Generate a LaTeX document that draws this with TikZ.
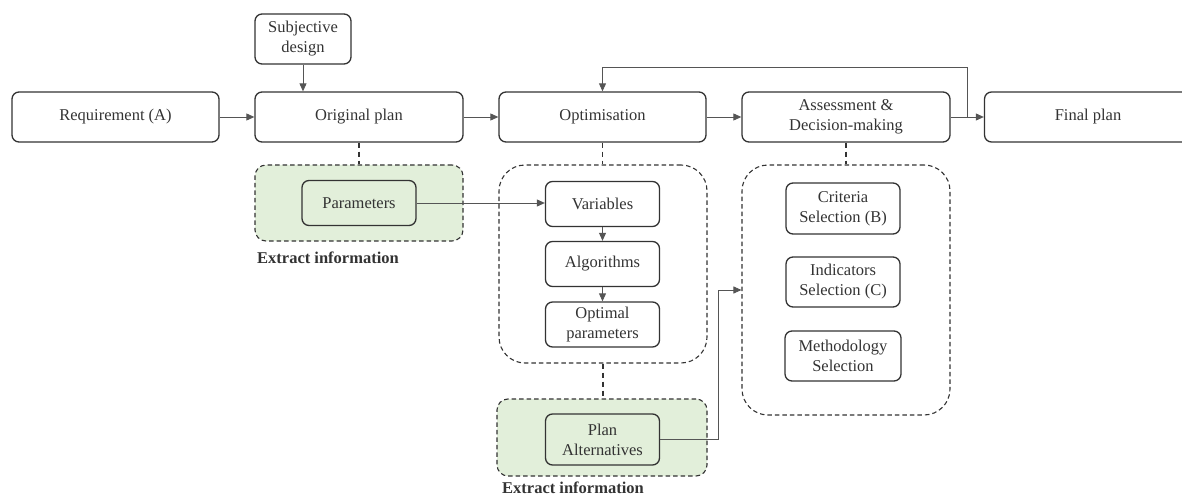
\documentclass[tikz,border=0pt]{standalone}
\usepackage{fontspec}
\setmainfont{LiberationSerif}[Extension=.ttf, UprightFont=*-Regular, BoldFont=*-Bold, ItalicFont=*-Italic, BoldItalicFont=*-BoldItalic]
\usetikzlibrary{arrows.meta,calc}
\definecolor{ink}{HTML}{333333}
\definecolor{wire}{HTML}{555555}
\definecolor{leaf}{HTML}{E2EFDA}
\tikzset{
  every node/.style={font=\fontsize{16.5}{20}\selectfont, text=ink},
  stage/.style={draw=ink, line width=1.3pt, rounded corners=7pt, align=center,
    inner sep=0pt, minimum height=50pt},
  item/.style={draw=ink, line width=1.3pt, rounded corners=7pt, align=center,
    inner sep=0pt, minimum width=114pt, minimum height=45pt},
  group/.style={draw=ink, line width=1.1pt, dash pattern=on 4.5pt off 3pt,
    rounded corners=26pt, inner sep=0pt},
  leafgroup/.style={group, fill=leaf, rounded corners=11pt},
  link/.style={draw=wire, line width=0.9pt, -{Triangle[length=8pt,width=7pt]}},
  tie/.style={draw=ink, line width=1.1pt, dash pattern=on 5pt off 4pt},
  note/.style={font=\fontsize{16.5}{18}\selectfont\bfseries, text=ink, anchor=base west, inner sep=0pt}
}
\begin{document}
\begin{tikzpicture}[x=1pt,y=-1pt]
\useasboundingbox (0,0) rectangle (1182,497);

% main chain
\node[stage, minimum width=207pt] (req)    at (115.5,117) {Requirement (A)};
\node[stage, minimum width=208pt] (orig)   at (359,117)   {Original plan};
\node[stage, minimum width=207pt] (opt)    at (602.5,117) {Optimisation};
\node[stage, minimum width=208pt] (assess) at (846,117)   {Assessment \&\\Decision-making};
\node[stage, minimum width=207pt] (final)  at (1088,117)  {Final plan};
\node[stage, minimum width=96pt]  (subj)   at (303,39)    {Subjective\\design};

% dashed containers
\node[leafgroup, minimum width=208pt, minimum height=76pt] (pgrp) at (359,203) {};
\node[group, minimum width=208pt, minimum height=198pt] (ogrp) at (603,264) {};
\node[leafgroup, minimum width=210pt, minimum height=77pt] (agrp) at (602,437.5) {};
\node[group, minimum width=208pt, minimum height=250pt] (sgrp) at (846,290) {};

% inner steps
\node[item, fill=leaf] (param) at (359,203) {Parameters};
\node[item] (var)   at (602.5,204)   {Variables};
\node[item] (alg)   at (602.5,264)   {Algorithms};
\node[item] (best)  at (602.5,324.5) {Optimal\\parameters};
\node[item, fill=leaf, minimum height=51pt] (alt) at (602.5,439.5) {Plan\\Alternatives};
\node[item, minimum height=51pt] (crit) at (843,208.5) {Criteria\\Selection (B)};
\node[item, minimum height=50pt] (ind)  at (843,282)   {Indicators\\Selection (C)};
\node[item, minimum width=116pt, minimum height=50pt] (meth) at (843,356) {Methodology\\Selection};

\node[note] (n1) at (257,263) {Extract information};
\node[note] (n2) at (502,493.5) {Extract information};

% dashed ties from stages to their containers
\draw[tie] (orig.south) -- (pgrp.north);
\draw[tie] (opt.south) -- (opt.south |- ogrp.north);
\draw[tie] (ogrp.south) -- (ogrp.south |- agrp.north);
\draw[tie] (assess.south) -- (sgrp.north);

% solid connectors
\draw[link] (req.east) -- (orig.west);
\draw[link] (subj.south) -- (subj.south |- orig.north);
\draw[link] (orig.east) -- (opt.west);
\draw[link] (opt.east) -- (assess.west);
\draw[link] (assess.east) -- (final.west);
\coordinate (split) at ($(assess.east)!0.5!(final.west)$);
\coordinate (loop) at (0,67);
\draw[link] (split) -- (split |- loop) -| (opt.north);
\draw[link] (param.east) -- (param.east -| var.west);
\draw[link] (var.south) -- (alg.north);
\draw[link] (alg.south) -- (best.north);
\coordinate (turn) at (718,290);
\draw[link] (alt.east) -- (alt.east -| turn) |- (sgrp.west);
\end{tikzpicture}
\end{document}
